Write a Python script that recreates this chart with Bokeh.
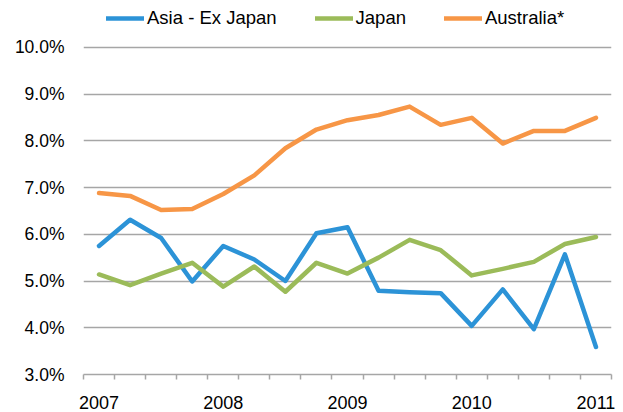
from bokeh.plotting import figure
from bokeh.models import (Range1d, FixedTicker, PrintfTickFormatter, Legend, LegendItem,
                          ColumnDataSource)
from bokeh.embed import file_html
from bokeh.resources import INLINE

years = ["2007", "2008", "2009", "2010", "2011"]
quarters_per_year = 4
asia_ex_japan = [5.75, 6.31, 5.92, 4.99, 5.75, 5.46, 5.00, 6.02, 6.15, 4.79, 4.76, 4.74,
                 4.04, 4.82, 3.97, 5.57, 3.59]
japan = [5.14, 4.91, 5.16, 5.39, 4.88, 5.31, 4.77, 5.39, 5.16, 5.50, 5.88, 5.66,
         5.12, 5.26, 5.41, 5.79, 5.94]
australia = [6.88, 6.82, 6.52, 6.54, 6.86, 7.26, 7.84, 8.24, 8.44, 8.55, 8.73, 8.34,
             8.49, 7.94, 8.21, 8.21, 8.49]
series_names = ["Asia - Ex Japan", "Japan", "Australia*"]
colors = ["#2C93D7", "#9BBB59", "#F79646"]
y_ticks = [3, 4, 5, 6, 7, 8, 9, 10]

n = len(asia_ex_japan)
x = list(range(n))

# the frame extends to the top of the page; the legend sits in the space above 10%
p = figure(width=623, height=412, output_backend="svg", toolbar_location=None,
           x_range=Range1d(-0.5, n - 0.5), y_range=Range1d(3, 11),
           min_border_left=83, min_border_right=12, min_border_top=0, min_border_bottom=38,
           outline_line_color=None)

p.xgrid.visible = False
p.ygrid.ticker = FixedTicker(ticks=y_ticks)
p.ygrid.grid_line_color = "#A6A6A6"
p.ygrid.grid_line_width = 1.5

# y axis
p.yaxis.ticker = FixedTicker(ticks=y_ticks)
p.yaxis.formatter = PrintfTickFormatter(format="%.1f%%")
p.yaxis.axis_line_color = None
p.yaxis.major_tick_line_color = None
p.yaxis.minor_tick_line_color = None
p.yaxis.major_tick_out = 0
p.yaxis.major_tick_in = 0
p.yaxis.major_label_standoff = 19
p.yaxis.major_label_text_font = "Liberation Sans"
p.yaxis.major_label_text_font_size = "17.5px"
p.yaxis.major_label_text_color = "#000000"

# x axis
label_pos = [i * quarters_per_year for i in range(len(years))]
p.xaxis.ticker = FixedTicker(ticks=label_pos, minor_ticks=[i - 0.5 for i in range(n + 1)])
p.xaxis.major_label_overrides = {pos: yr for pos, yr in zip(label_pos, years)}
p.xaxis.axis_line_color = "#A6A6A6"
p.xaxis.axis_line_width = 1.5
p.xaxis.major_tick_line_color = None
p.xaxis.major_tick_out = 0
p.xaxis.major_tick_in = 0
p.xaxis.minor_tick_line_color = "#A6A6A6"
p.xaxis.minor_tick_line_width = 1.5
p.xaxis.minor_tick_out = 5
p.xaxis.minor_tick_in = 0
p.xaxis.major_label_standoff = 16
p.xaxis.major_label_text_font = "Liberation Sans"
p.xaxis.major_label_text_font_size = "18px"
p.xaxis.major_label_text_color = "#000000"

items = []
for name, vals, c in zip(series_names, [asia_ex_japan, japan, australia], colors):
    src = ColumnDataSource(dict(x=x, y=vals))
    r = p.line("x", "y", source=src, line_color=c, line_width=4.5,
               line_join="round", line_cap="round")
    items.append(LegendItem(label=name, renderers=[r]))

legend = Legend(items=items, orientation="horizontal", location=(23, 345),
                glyph_width=38, glyph_height=20, label_height=20, label_standoff=3,
                spacing=38, padding=0, margin=0, border_line_color=None,
                background_fill_alpha=0,
                label_text_font="Liberation Sans", label_text_font_size="18.5px",
                label_text_color="#000000")
p.add_layout(legend, "center")

open("out.html", "w").write(file_html(p, INLINE))
